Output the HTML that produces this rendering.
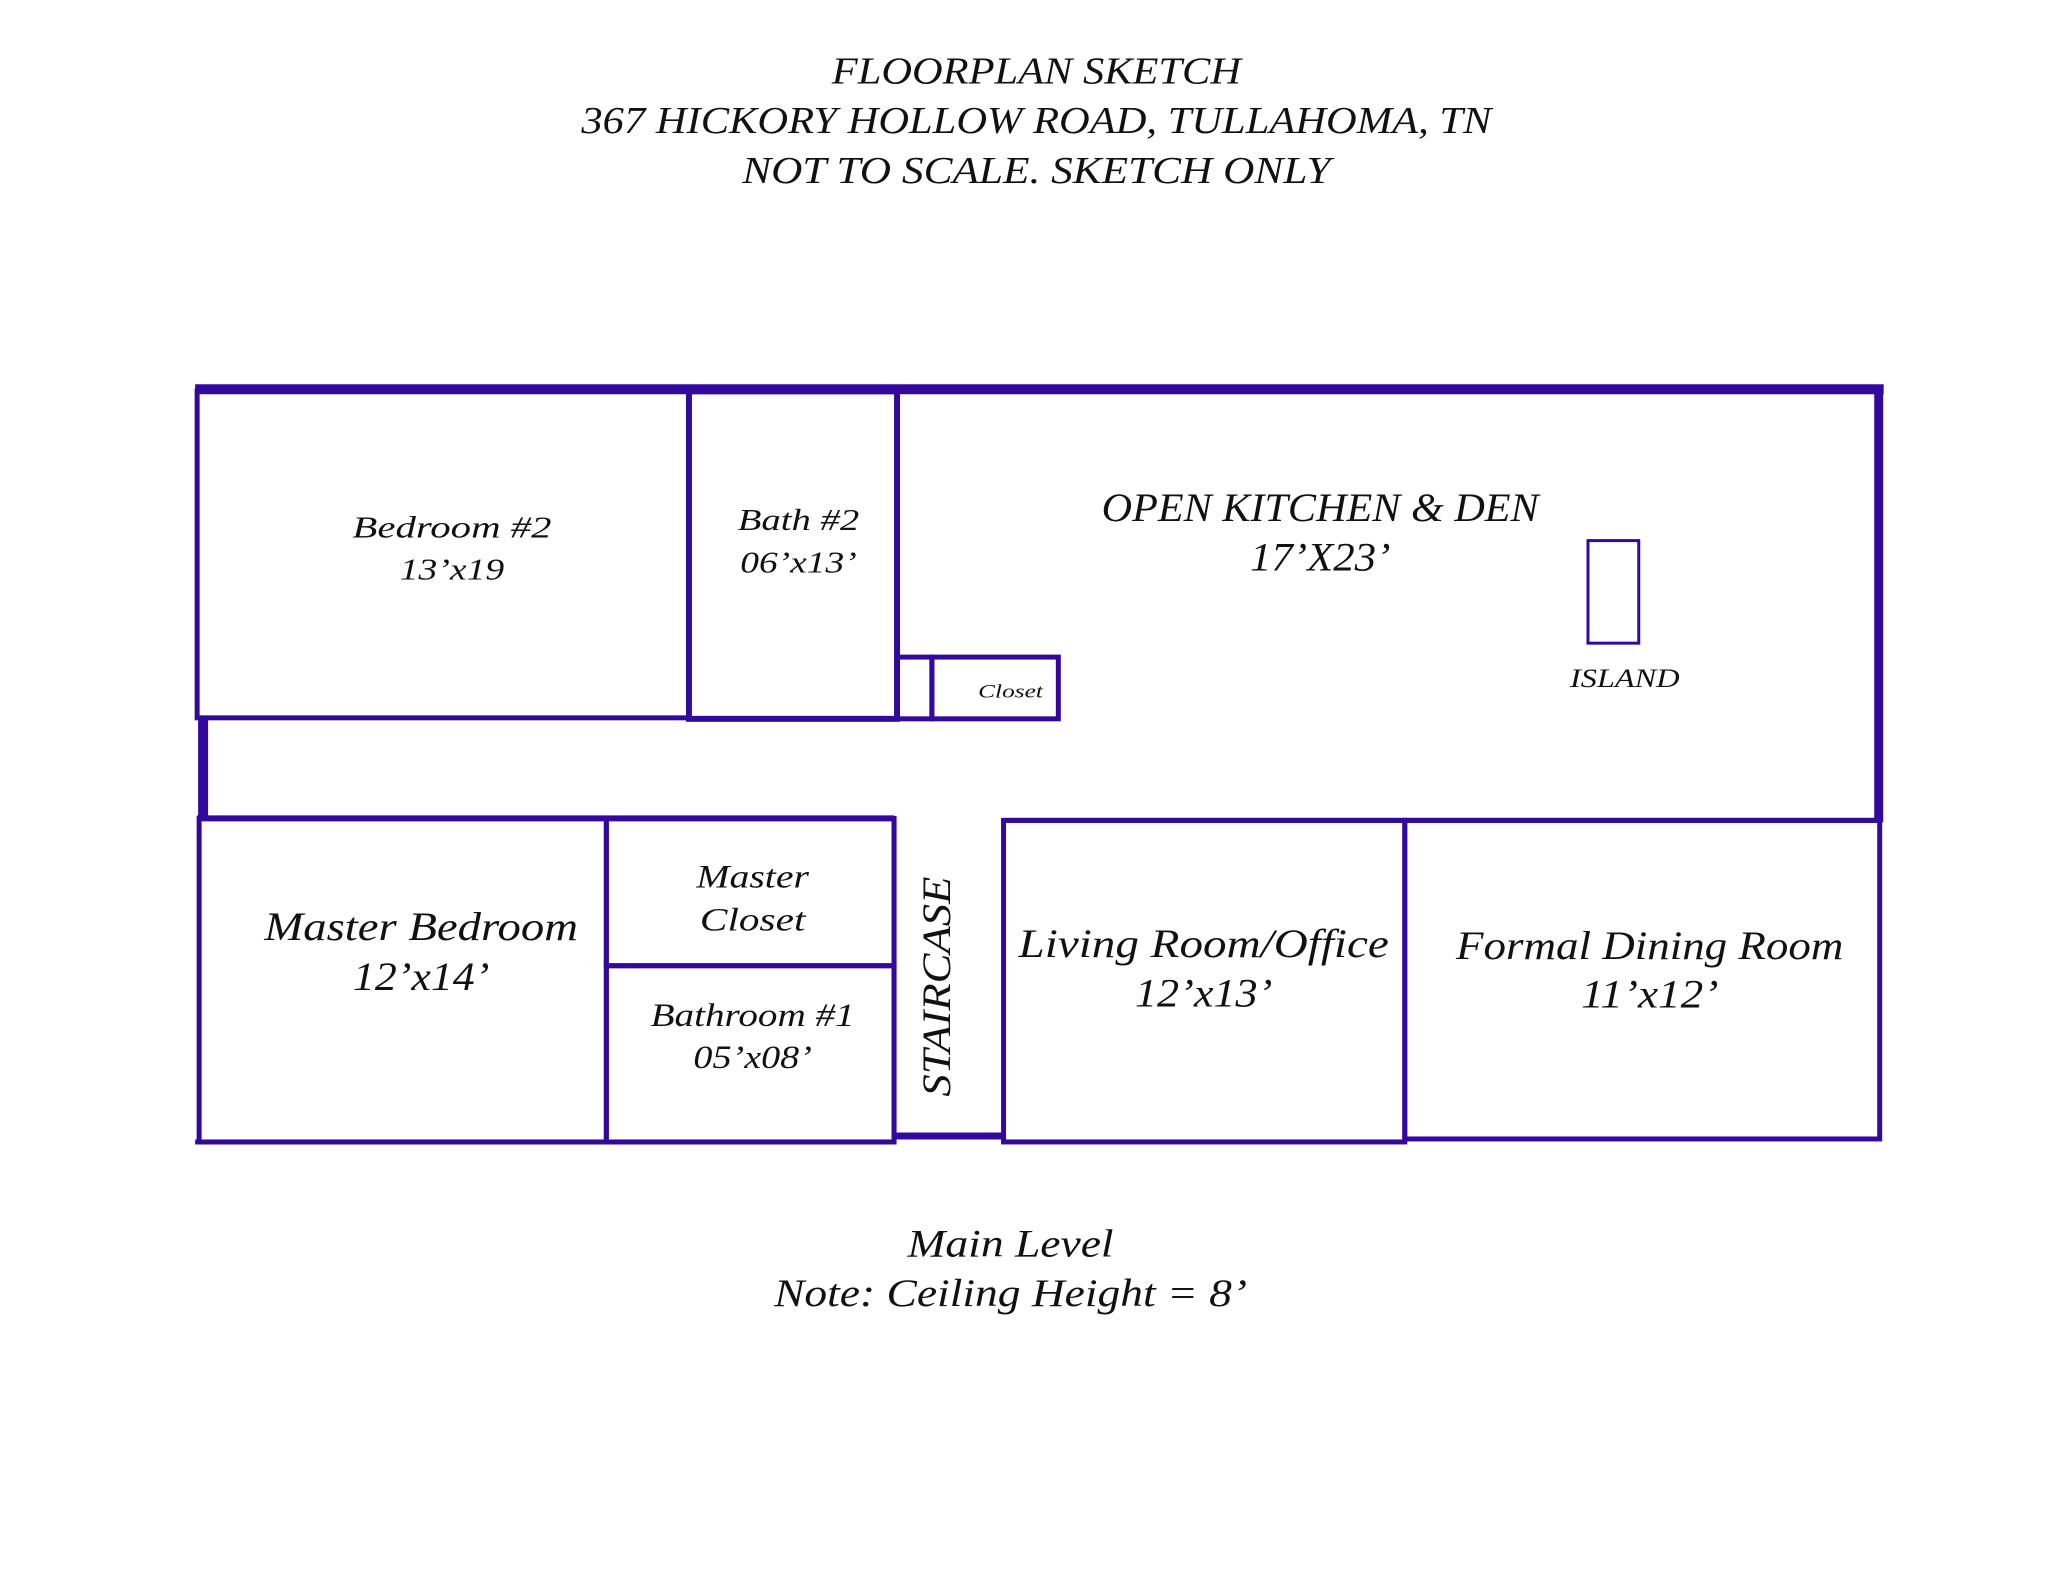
<!DOCTYPE html>
<html><head><meta charset="utf-8"><style>
html,body{margin:0;padding:0;background:#fff;}
svg{display:block;}
text{font-family:"Liberation Serif",serif;font-style:italic;fill:#111;}
</style></head><body>
<svg width="2048" height="1583" viewBox="0 0 2048 1583" xmlns="http://www.w3.org/2000/svg">
<g transform="scale(0.9956)">
<g text-anchor="middle" dominant-baseline="middle">
<text x="1041" y="75" font-size="38" textLength="411" lengthAdjust="spacingAndGlyphs">FLOORPLAN SKETCH</text>
<text x="1041" y="125" font-size="38" textLength="914" lengthAdjust="spacingAndGlyphs">367 HICKORY HOLLOW ROAD, TULLAHOMA, TN</text>
<text x="1041" y="175" font-size="38" textLength="591" lengthAdjust="spacingAndGlyphs">NOT TO SCALE. SKETCH ONLY</text>
</g>
<g fill="none" stroke="#33089c" stroke-width="5">
<line x1="196" y1="391" x2="1892" y2="391" stroke-width="10"/>
<line x1="1887" y1="391" x2="1887" y2="826" stroke-width="9"/>
<rect x="198" y="393" width="494" height="328"/>
<rect x="692" y="393" width="209" height="329" stroke-width="6"/>
<line x1="901" y1="393" x2="901" y2="722"/>
<rect x="901" y="660" width="35" height="62"/>
<rect x="936" y="660" width="127" height="62"/>
<line x1="204" y1="721" x2="204" y2="822" stroke-width="10"/>
<line x1="198" y1="822" x2="898" y2="822" stroke-width="6"/>
<rect x="200" y="822" width="409" height="325"/>
<rect x="609" y="822" width="289" height="148"/>
<rect x="609" y="970" width="289" height="177"/>
<line x1="898" y1="822" x2="898" y2="1147"/>
<line x1="898" y1="1141" x2="1008" y2="1141" stroke-width="7"/>
<line x1="1008" y1="824" x2="1890" y2="824"/>
<rect x="1008" y="824" width="403" height="323"/>
<rect x="1411" y="824" width="477" height="320"/>
<line x1="196" y1="1147" x2="898" y2="1147"/>
<rect x="1595" y="543" width="51" height="103" stroke-width="3"/>
</g>
<g text-anchor="middle" dominant-baseline="middle" transform="translate(0 3)">
<text x="454" y="530" font-size="31" textLength="200" lengthAdjust="spacingAndGlyphs">Bedroom #2</text>
<text x="454" y="572" font-size="31" textLength="105" lengthAdjust="spacingAndGlyphs">13’x19</text>
<text x="802" y="522" font-size="31" textLength="122" lengthAdjust="spacingAndGlyphs">Bath #2</text>
<text x="802" y="565" font-size="31" textLength="117" lengthAdjust="spacingAndGlyphs">06’x13’</text>
<text x="1326" y="511" font-size="40" textLength="439" lengthAdjust="spacingAndGlyphs">OPEN KITCHEN &amp; DEN</text>
<text x="1326" y="561" font-size="40" textLength="141" lengthAdjust="spacingAndGlyphs">17’X23’</text>
<text x="1632" y="681" font-size="26" textLength="110" lengthAdjust="spacingAndGlyphs">ISLAND</text>
<text x="1015" y="693" font-size="19" textLength="65" lengthAdjust="spacingAndGlyphs">Closet</text>
<text x="423" y="932" font-size="40" textLength="315" lengthAdjust="spacingAndGlyphs">Master Bedroom</text>
<text x="423" y="982" font-size="40" textLength="137" lengthAdjust="spacingAndGlyphs">12’x14’</text>
<text x="756" y="881" font-size="33" textLength="113" lengthAdjust="spacingAndGlyphs">Master</text>
<text x="756" y="924" font-size="33" textLength="106" lengthAdjust="spacingAndGlyphs">Closet</text>
<text x="756" y="1020" font-size="33" textLength="205" lengthAdjust="spacingAndGlyphs">Bathroom #1</text>
<text x="756" y="1062" font-size="33" textLength="119" lengthAdjust="spacingAndGlyphs">05’x08’</text>
<text x="0" y="0" font-size="40" textLength="221" lengthAdjust="spacingAndGlyphs" transform="translate(945 988) rotate(-90)">STAIRCASE</text>
<text x="1209" y="949" font-size="40" textLength="372" lengthAdjust="spacingAndGlyphs">Living Room/Office</text>
<text x="1209" y="999" font-size="40" textLength="138" lengthAdjust="spacingAndGlyphs">12’x13’</text>
<text x="1657" y="951" font-size="40" textLength="389" lengthAdjust="spacingAndGlyphs">Formal Dining Room</text>
<text x="1657" y="1000" font-size="40" textLength="138" lengthAdjust="spacingAndGlyphs">11’x12’</text>
<text x="1015" y="1250" font-size="39" textLength="207" lengthAdjust="spacingAndGlyphs">Main Level</text>
<text x="1015" y="1300" font-size="39" textLength="475" lengthAdjust="spacingAndGlyphs">Note: Ceiling Height = 8’</text>
</g>
</g>
</svg>
</body></html>
